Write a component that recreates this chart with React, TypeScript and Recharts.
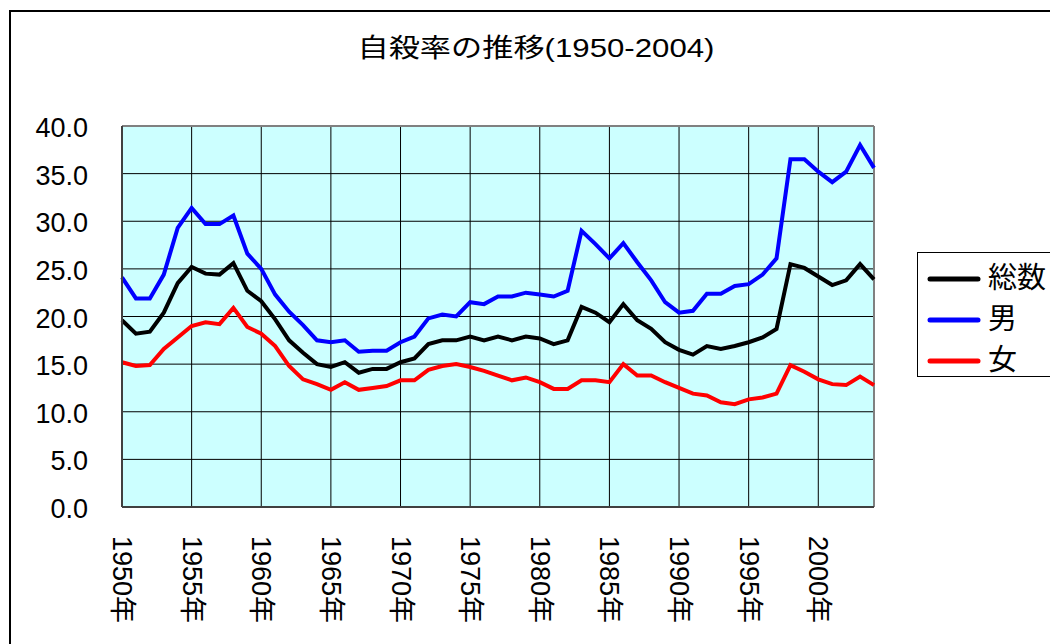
import React from "react";
import { LineChart, Line, XAxis, YAxis, CartesianGrid, ReferenceLine, Legend } from "recharts";

const years = [
  1950, 1951, 1952, 1953, 1954, 1955, 1956, 1957, 1958, 1959,
  1960, 1961, 1962, 1963, 1964, 1965, 1966, 1967, 1968, 1969,
  1970, 1971, 1972, 1973, 1974, 1975, 1976, 1977, 1978, 1979,
  1980, 1981, 1982, 1983, 1984, 1985, 1986, 1987, 1988, 1989,
  1990, 1991, 1992, 1993, 1994, 1995, 1996, 1997, 1998, 1999,
  2000, 2001, 2002, 2003, 2004,
];

const total = [
  19.6, 18.2, 18.4, 20.4, 23.5, 25.2, 24.5, 24.4, 25.6, 22.7,
  21.6, 19.7, 17.5, 16.2, 15.0, 14.7, 15.2, 14.1, 14.5, 14.5,
  15.2, 15.6, 17.1, 17.5, 17.5, 17.9, 17.5, 17.9, 17.5, 17.9,
  17.7, 17.1, 17.5, 21.0, 20.4, 19.4, 21.3, 19.6, 18.7, 17.3,
  16.5, 16.0, 16.9, 16.6, 16.9, 17.3, 17.8, 18.7, 25.5, 25.1,
  24.2, 23.3, 23.8, 25.5, 23.9,
];

const male = [
  24.1, 21.9, 21.9, 24.4, 29.3, 31.4, 29.7, 29.7, 30.6, 26.6,
  25.0, 22.3, 20.5, 19.1, 17.5, 17.3, 17.5, 16.3, 16.4, 16.4,
  17.3, 17.9, 19.8, 20.2, 20.0, 21.5, 21.3, 22.1, 22.1, 22.5,
  22.3, 22.1, 22.7, 29.0, 27.6, 26.1, 27.7, 25.7, 23.8, 21.5,
  20.4, 20.6, 22.4, 22.4, 23.2, 23.4, 24.4, 26.1, 36.5, 36.5,
  35.2, 34.1, 35.2, 38.0, 35.6,
];

const female = [
  15.2, 14.8, 14.9, 16.6, 17.8, 19.0, 19.4, 19.2, 20.9, 18.9,
  18.2, 16.9, 14.8, 13.4, 12.9, 12.3, 13.1, 12.3, 12.5, 12.7,
  13.3, 13.3, 14.4, 14.8, 15.0, 14.7, 14.3, 13.8, 13.3, 13.6,
  13.1, 12.4, 12.4, 13.3, 13.3, 13.1, 15.0, 13.8, 13.8, 13.1,
  12.5, 11.9, 11.7, 11.0, 10.8, 11.3, 11.5, 11.9, 14.9, 14.2,
  13.4, 12.9, 12.8, 13.7, 12.8,
];

const xTicks = [1950, 1955, 1960, 1965, 1970, 1975, 1980, 1985, 1990, 1995, 2000];
const yTicks = [0, 5, 10, 15, 20, 25, 30, 35, 40];

const seriesNames = ["総数", "男", "女"];
const seriesKeys = ["total", "male", "female"];
const seriesColors = ["#000000", "#0000FF", "#FF0000"];

const title = "自殺率の推移(1950-2004)";

const data = years.map((y, i) => ({ year: y, total: total[i], male: male[i], female: female[i] }));

const FONT = '"Liberation Sans", "Noto Sans CJK JP", sans-serif';

const YTick = (props: any) => {
  const { x, y, payload } = props;
  return (
    <text x={x + 1} y={y + 2} textAnchor="end" dominantBaseline="central" fontSize={27} fontFamily={FONT} fill="#000">
      {Number(payload.value).toFixed(1)}
    </text>
  );
};

const XTick = (props: any) => {
  const { x, y, payload } = props;
  return (
    <text
      x={x}
      y={y}
      transform={`rotate(90, ${x}, ${y})`}
      textAnchor="start"
      dominantBaseline="central"
      fontSize={27}
      fontFamily={FONT}
      fill="#000"
    >
      {`${payload.value}年`}
    </text>
  );
};

const LegendBox = () => (
  <div
    style={{
      border: "1.5px solid #000",
      width: 150,
      height: 125,
      boxSizing: "border-box",
      background: "#fff",
      paddingTop: 5,
    }}
  >
    {seriesNames.map((n, i) => (
      <div key={n} style={{ display: "flex", alignItems: "center", height: 41, overflow: "visible" }}>
        <svg width={70} height={20} style={{ display: "block", flex: "none" }}>
          <line x1={12} y1={10} x2={60} y2={10} stroke={seriesColors[i]} strokeWidth={5} strokeLinecap="round" />
        </svg>
        <span style={{ fontFamily: FONT, fontSize: 29, lineHeight: "29px", height: 29, color: "#000", display: "block" }}>{n}</span>
      </div>
    ))}
  </div>
);

export default function App() {
  return (
    <div style={{ position: "absolute", left: 0, top: 0, width: 1050, height: 644, overflow: "hidden", background: "#fff" }}>
      <div
        style={{
          position: "absolute",
          left: 9,
          top: 10,
          width: 1100,
          height: 700,
          borderLeft: "2px solid #000",
          borderTop: "2px solid #000",
        }}
      />
      <div style={{ position: "absolute", left: 0, top: 0 }}>
        <LineChart width={1050} height={644} data={data} margin={{ top: 126, right: 176, bottom: 17, left: 22 }}>
          <CartesianGrid stroke="#000" strokeWidth={1} fill="#CCFFFF" fillOpacity={1} />
          <XAxis
            dataKey="year"
            type="number"
            domain={[1950, 2004]}
            ticks={xTicks}
            interval={0}
            height={120}
            tickLine={false}
            tickSize={0}
            tickMargin={29}
            axisLine={{ stroke: "#404040", strokeWidth: 2 }}
            tick={<XTick />}
          />
          <YAxis
            type="number"
            domain={[0, 40]}
            ticks={yTicks}
            interval={0}
            width={100}
            tickLine={false}
            tickSize={0}
            tickMargin={35}
            axisLine={{ stroke: "#404040", strokeWidth: 2 }}
            tick={<YTick />}
          />
          <ReferenceLine y={40} stroke="#808080" strokeWidth={2} />
          <ReferenceLine x={2004} stroke="#808080" strokeWidth={2} />
          {seriesKeys.map((k, i) => (
            <Line
              key={k}
              type="linear"
              dataKey={k}
              name={seriesNames[i]}
              stroke={seriesColors[i]}
              strokeWidth={4}
              dot={false}
              activeDot={false}
              isAnimationActive={false}
            />
          ))}
          <Legend
            layout="horizontal"
            verticalAlign="middle"
            align="center"
            content={<LegendBox />}
            wrapperStyle={{ position: "absolute", left: 917, top: 252, width: 150, height: 125 }}
          />
        </LineChart>
      </div>
      <svg style={{ position: "absolute", left: 0, top: 0 }} width={1050} height={100}>
        <text
          x={536}
          y={57}
          textAnchor="middle"
          fontSize={26}
          fontFamily={FONT}
          textLength={357}
          lengthAdjust="spacingAndGlyphs"
          fill="#000"
        >
          {title}
        </text>
      </svg>
    </div>
  );
}
